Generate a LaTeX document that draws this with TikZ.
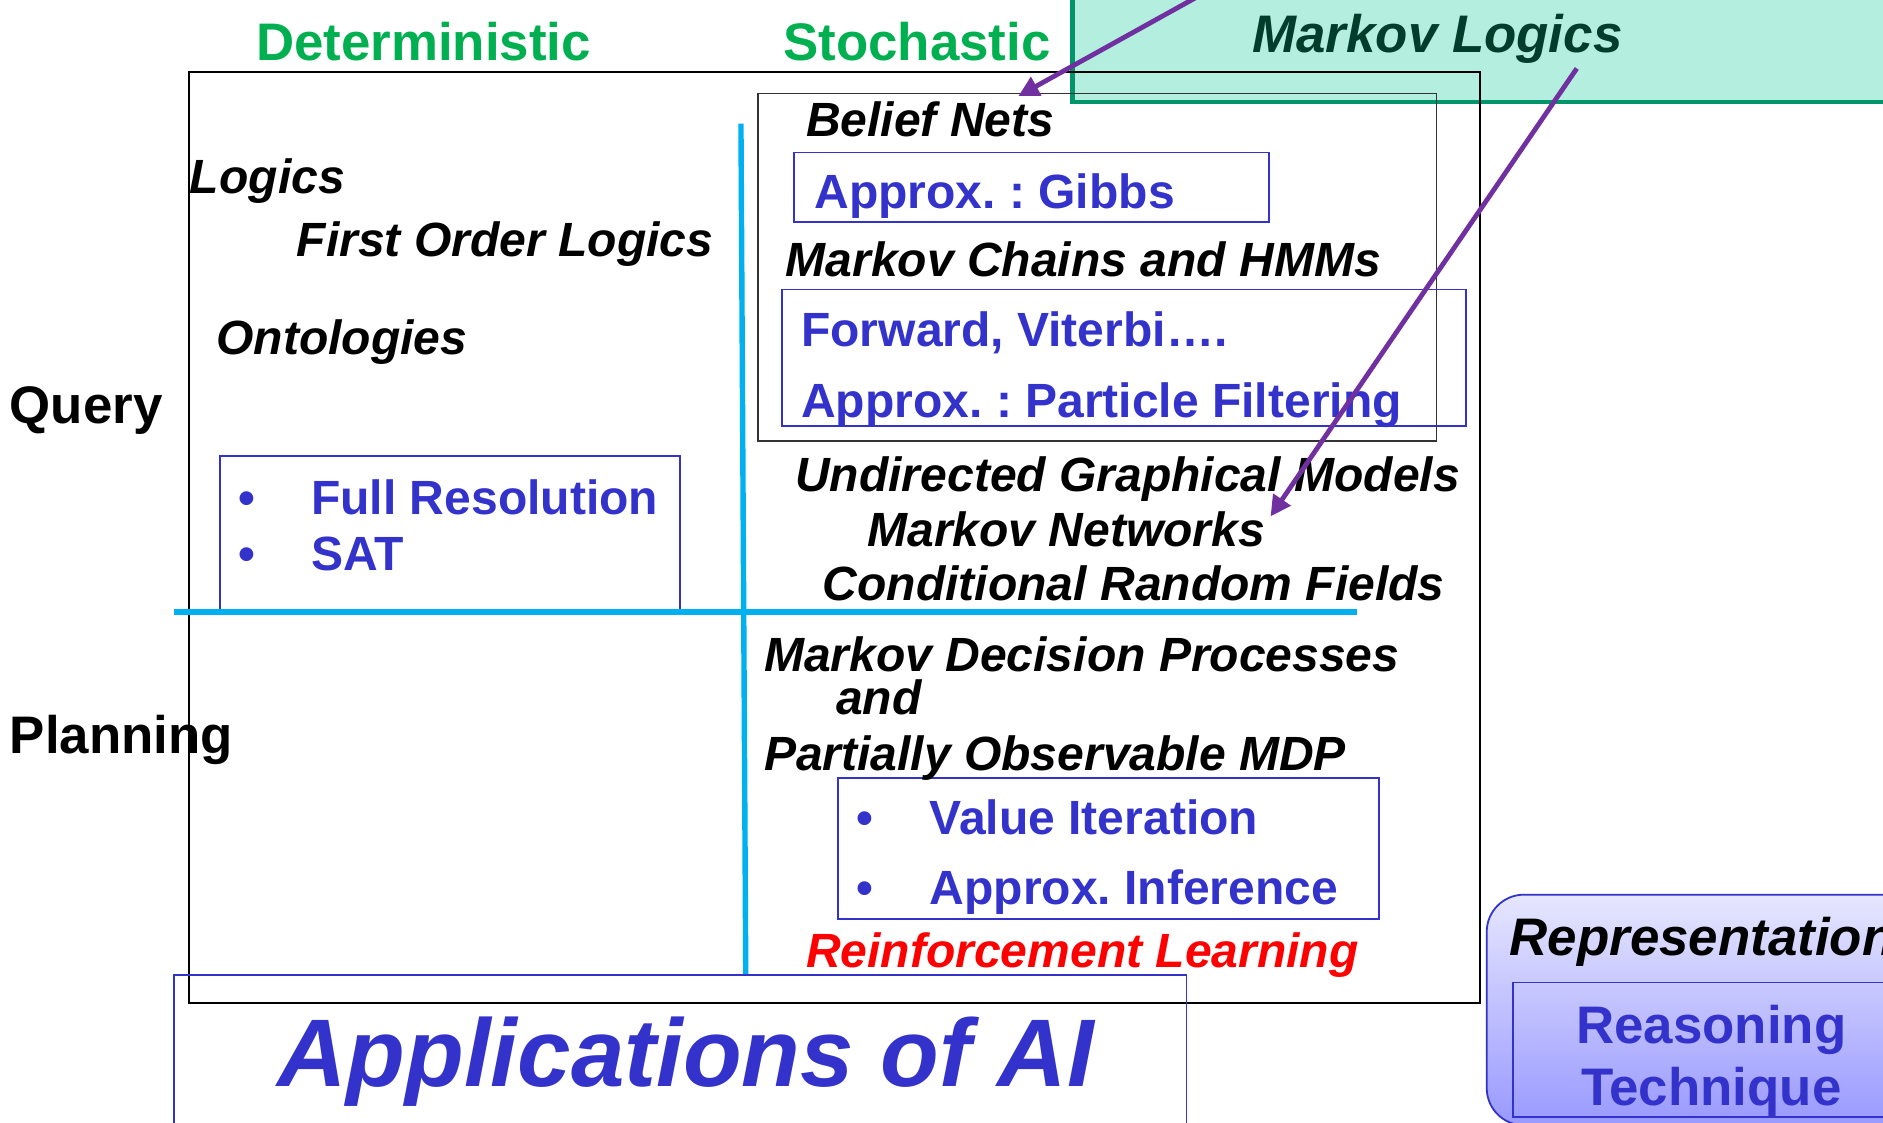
\documentclass[tikz,border=0pt]{standalone}
\usepackage{fontspec}
\setmainfont{Liberation Sans}
\usetikzlibrary{arrows.meta}
\frenchspacing

\definecolor{detgreen}{HTML}{00B050}
\definecolor{mlfill}{HTML}{B3EEDF}
\definecolor{mldraw}{HTML}{00956B}
\definecolor{mltext}{HTML}{003D2B}
\definecolor{axiscyan}{HTML}{00B0F0}
\definecolor{methblue}{HTML}{3333CC}
\definecolor{arrpurple}{HTML}{7030A0}
\definecolor{reptop}{HTML}{E6E6FF}
\definecolor{repbot}{HTML}{9999FF}

\begin{document}
\begin{tikzpicture}[x=1pt,y=-1pt,
                    every node/.style={inner sep=0pt,text depth=0pt}]
  \tikzstyle{head}=[font=\fontsize{44}{50}\selectfont\bfseries,text height=31.5pt]
  \tikzstyle{topic}=[anchor=west,font=\fontsize{40}{46}\selectfont\bfseries\itshape,text height=28.6pt]
  \tikzstyle{method}=[anchor=west,font=\fontsize{40}{46}\selectfont\bfseries,text=methblue,text height=28.6pt]
  \tikzstyle{methbox}=[draw=methblue,line width=1.5pt]
  \tikzstyle{frame}=[draw=black,line width=1.7pt]
  \tikzstyle{axis}=[draw=axiscyan,line width=4.5pt]
  \tikzstyle{hint}=[draw=arrpurple,line width=4pt,-{Triangle[length=17pt,width=17pt]}]

  \useasboundingbox (0,0) rectangle (1568,935);
  \clip (0,0) rectangle (1568,935);

	% boxes
	\draw[fill=mlfill,draw=mldraw,line width=4pt] (893,-20) rectangle (1620,85);
	\draw[frame] (157,60) rectangle (1232,835);
	\draw[draw=black!80,line width=1.3pt] (631,78) rectangle (1196,367);
	\draw[methbox] (183,380) rectangle (566,510);
	\draw[methbox] (661,127) rectangle (1057,185);
	\draw[methbox] (651,241) rectangle (1221,355);
	\draw[methbox] (698,648) rectangle (1148,765);
	\draw[methbox] (145,812) rectangle (988,960);
	\shade[draw=methblue,line width=1.5pt,top color=reptop,bottom color=repbot,
	       rounded corners=31pt] (1238,745) rectangle (1640,937);
	\draw[methbox,line width=1.2pt] (1260,818) rectangle (1620,930);

	% axes
	\draw[axis] (617,103) -- (621,811);
	\draw[axis,line width=5pt] (145,510) -- (1130,510);

	% headings
	\node[head,anchor=west,text=detgreen]	(hdet)	 at (213,35)  {Deterministic};
	\node[head,anchor=west,text=detgreen]	(hstoch) at (652,35)  {Stochastic};
	\node[head,anchor=center,text=mltext,font=\fontsize{44}{50}\selectfont\bfseries\itshape]
		(hmlogic) at (1197,28) {Markov Logics};
	\node[head,anchor=west]	(query)	   at (8,337)   {Query};
	\node[head,anchor=west]	(planning) at (8,612)   {Planning};

	% deterministic side
	\node[topic]	(logics) at (158,147)  {Logics};
	\node[topic]	(folog)	 at (247,199)  {First Order Logics};
	\node[topic]	(onto)	 at (180,281)  {Ontologies};
	\node[method]	(fullres) at (198,414) {\makebox[61pt][l]{\textbullet}Full Resolution};
	\node[method]	(sat)	  at (198,461) {\makebox[61pt][l]{\textbullet}SAT};

	% stochastic side
	\node[topic]	(bnets)	  at (671,99)  {Belief Nets};
	\node[method]	(gibbs)	  at (678,159) {Approx. : Gibbs};
	\node[topic]	(mchains) at (654,216) {Markov Chains and HMMs};
	\node[method]	(fwd)	  at (667,274) {Forward, Viterbi….};
	\node[method]	(pfilter) at (667,333) {Approx. : Particle Filtering};
	\node[topic]	(ugm)	  at (662,395) {Undirected Graphical Models};
	\node[topic]	(mnets)	  at (722,441) {Markov Networks};
	\node[topic]	(crf)	  at (685,486) {Conditional Random Fields};
	\node[topic]	(mdp)	  at (636,545) {Markov Decision Processes};
	\node[topic]	(mdpand)  at (696,581) {and};
	\node[topic]	(pomdp)	  at (636,627) {Partially Observable MDP};
	\node[method]	(valit)	  at (713,681) {\makebox[61pt][l]{\textbullet}Value Iteration};
	\node[method]	(apinf)	  at (713,739) {\makebox[61pt][l]{\textbullet}Approx. Inference};
	\node[topic,text=red]	(rlearn) at (671,791) {Reinforcement Learning};

	% bottom
	\node[anchor=center,text=methblue,font=\fontsize{80}{90}\selectfont\bfseries\itshape,
	      text height=57.3pt]	(apps) at (571,876) {Applications of AI};
	\node[head,anchor=west,font=\fontsize{44}{50}\selectfont\bfseries\itshape]
		(repr) at (1257,780) {Representation};
	\node[head,anchor=center,text=methblue]	(reason) at (1425,853) {Reasoning};
	\node[head,anchor=center,text=methblue]	(techn)	 at (1425,905) {Technique};

	% arrows from markov logics
	\coordinate (mlsrca) at (1003,-6);
	\coordinate (mlenda) at (848,80);
	\coordinate (mlsrcb) at (1313,57);
	\coordinate (mlendb) at (1058,430);
	\draw[hint] (mlsrca) -- (mlenda);
	\draw[hint] (mlsrcb) -- (mlendb);

\end{tikzpicture}
\end{document}
